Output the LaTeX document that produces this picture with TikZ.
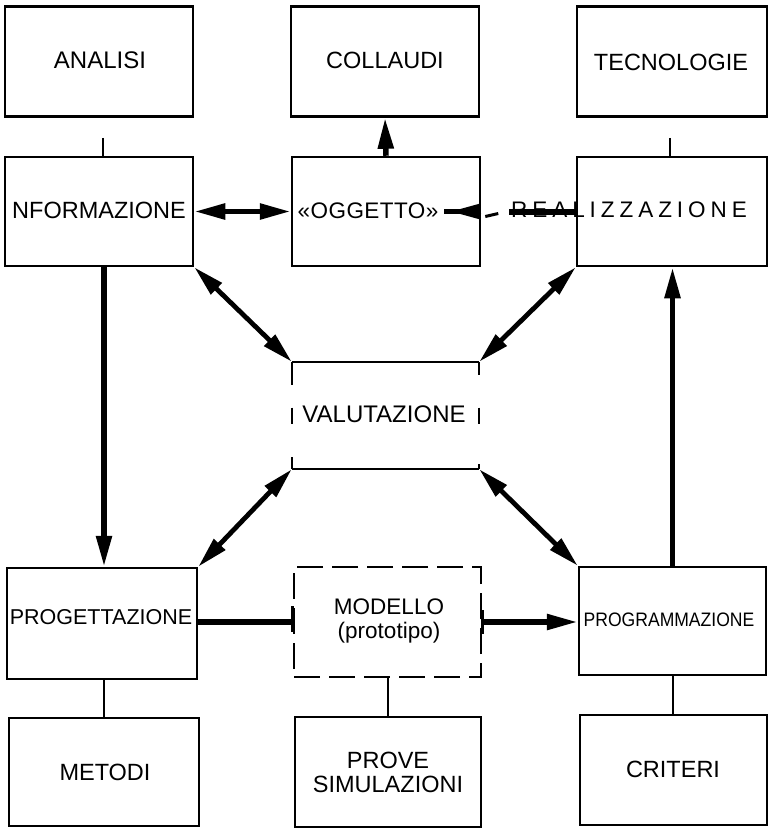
\documentclass[tikz,border=0pt]{standalone}
\usepackage{fontspec}
\setmainfont{Liberation Sans}
\newfontfamily\widefont[LetterSpace=22]{Liberation Sans}
\newfontfamily\semiwide[LetterSpace=2]{Liberation Sans}
\usetikzlibrary{arrows.meta,calc}
\begin{document}
\begin{tikzpicture}[x=1pt,y=-1pt,
  box/.style={draw, line width=2.5pt, inner sep=0pt, minimum width=188pt, minimum height=110pt},
  dbox/.style={draw, line width=2.5pt, inner sep=0pt, minimum width=187pt, minimum height=110pt, dash pattern=on 26pt off 9pt},
  ghost/.style={inner sep=0pt, minimum width=187pt, minimum height=107pt},
  lbl/.style={inner sep=0pt, align=center, font=\fontsize{23.5}{24}\selectfont},
  tipA/.tip={Triangle[length=31pt,width=15pt]},
  thk/.style={line width=5.5pt, -tipA},
  dthk/.style={line width=4.8pt, tipA-tipA},
  bar/.style={line width=5.5pt},
  thin/.style={line width=2pt},
  stub/.style={line width=2.2pt}
]
\useasboundingbox (0,0) rectangle (769,832);
\fill[white] (0,0) rectangle (769,832);

% top row
\node[box] (ana) at (99,61.5) {};
\node[box] (col) at (385,61.5) {};
\node[box, minimum width=190pt] (tec) at (672,61.5) {};
% second row
\node[box, minimum height=109pt] (inf) at (99,211.5) {};
\node[box, minimum height=109pt] (ogg) at (386,211.5) {};
\node[box, minimum width=190pt, minimum height=109pt] (rea) at (672,211.5) {};
% valutazione
\node[ghost] (val) at (385.5,415.5) {};
% bottom rows
\node[box, minimum width=190pt, minimum height=111pt] (prg) at (102,623.5) {};
\node[dbox] (mod) at (387.5,622) {};
\node[box, minimum width=187pt, minimum height=108pt] (prm) at (672.5,621) {};
\node[box, minimum width=190pt, minimum height=108pt] (met) at (104,772) {};
\node[box, minimum width=186pt] (prv) at (388,772) {};
\node[box, minimum width=187pt] (cri) at (673.5,770) {};

% labels
\node[lbl, font=\fontsize{24}{24}\selectfont] (tana) at (100,60) {ANALISI};
\node[lbl] (tcol) at (385,60) {COLLAUDI};
\node[lbl] (ttec) at (671,62) {TECNOLOGIE};
\node[lbl] (tinf) at (99,210) {NFORMAZIONE};
\node[lbl, font=\fontsize{22.5}{24}\selectfont] (togg) at (368,211) {\semiwide «OGGETTO»};
\node[lbl, font=\fontsize{22.5}{24}\selectfont] (trea) at (629,210) {\widefont REALIZZAZIONE};
\node[lbl, font=\fontsize{24}{24}\selectfont] (tval) at (384,414) {VALUTAZIONE};
\node[lbl, font=\fontsize{21.5}{22}\selectfont] (tprg) at (101,617) {PROGETTAZIONE};
\node[lbl, font=\fontsize{22.5}{23.5}\selectfont] (tmod) at (389,621) {MODELLO\\(prototipo)};
\node[lbl, font=\fontsize{19.5}{20}\selectfont] (tprm) at (669,620) {\scalebox{0.9}[1]{PROGRAMMAZIONE}};
\node[lbl] (tmet) at (105,772) {METODI};
\node[lbl, font=\fontsize{23.5}{24}\selectfont] (tprv) at (388,772) {PROVE\\SIMULAZIONI};
\node[lbl] (tcri) at (673,769) {CRITERI};

% valutazione outline (partial)
\draw[stub] (val.north west) -- (val.north east);
\draw[stub] (val.south west) -- (val.south east);
\draw[stub] (val.north west) -- ++(0,23);
\draw[stub] (val.north east) -- ++(0,13);
\draw[stub] (val.south west) -- ++(0,-12);
\draw[stub] (val.south east) -- ++(0,-5);
\draw[stub] ($(val.west)+(0,-8)$) -- ++(0,16);
\draw[stub] ($(val.east)+(0,-8)$) -- ++(0,16);

% modello solid stubs
\draw[line width=2.6pt] ($(mod.west)+(0,-16)$) -- ++(0,26);
\draw[line width=3pt] ($(mod.east)+(0,-12)$) -- ++(0,24);

% small ticks under top boxes
\coordinate (ta) at ($(ana.south)+(4,20)$);
\coordinate (tt) at ($(tec.south)+(-2,20)$);
\draw[thin] (ta) -- ++(0,18);
\draw[thin] (tt) -- ++(0,18);

% connectors
\draw[thk] (ogg.north) -- (col.south);
\draw[line width=5.5pt, tipA-tipA] (inf.east) -- (ogg.west);
% broken connector realizzazione -> oggetto
\draw[bar, line width=6pt] (rea.west) -- ++(-67,0);
\draw[line width=3pt] ($(ogg.east)+(4,5)$) -- ++(13,-3);
\draw[bar, line width=5.5pt] ($(ogg.east)+(0,0)$) -- ++(-37,0);
\fill ($(ogg.east)+(-1,-8)$) -- ($(ogg.east)+(-1,8)$) -- ($(ogg.east)+(-30,0)$) -- cycle;

\draw[dthk] (inf.south east) -- (val.north west);
\draw[dthk] (rea.south west) -- (val.north east);
\draw[dthk] (val.south west) -- (prg.north east);
\draw[dthk] (val.south east) -- (prm.north west);

\draw[thk] (inf.south -| met.north) -- (prg.north -| met.north);
\draw[thk] (prm.north) -- (prm.north |- rea.south);

\draw[bar] (prg.east |- mod.west) -- (mod.west);
\draw[thk] (mod.east) -- (prm.west |- mod.east);

\draw[thin] (met.north |- prg.south) -- (met.north);
\draw[thin] (mod.south) -- (mod.south |- prv.north);
\draw[thin] (prm.south) -- (prm.south |- cri.north);
\end{tikzpicture}
\end{document}
